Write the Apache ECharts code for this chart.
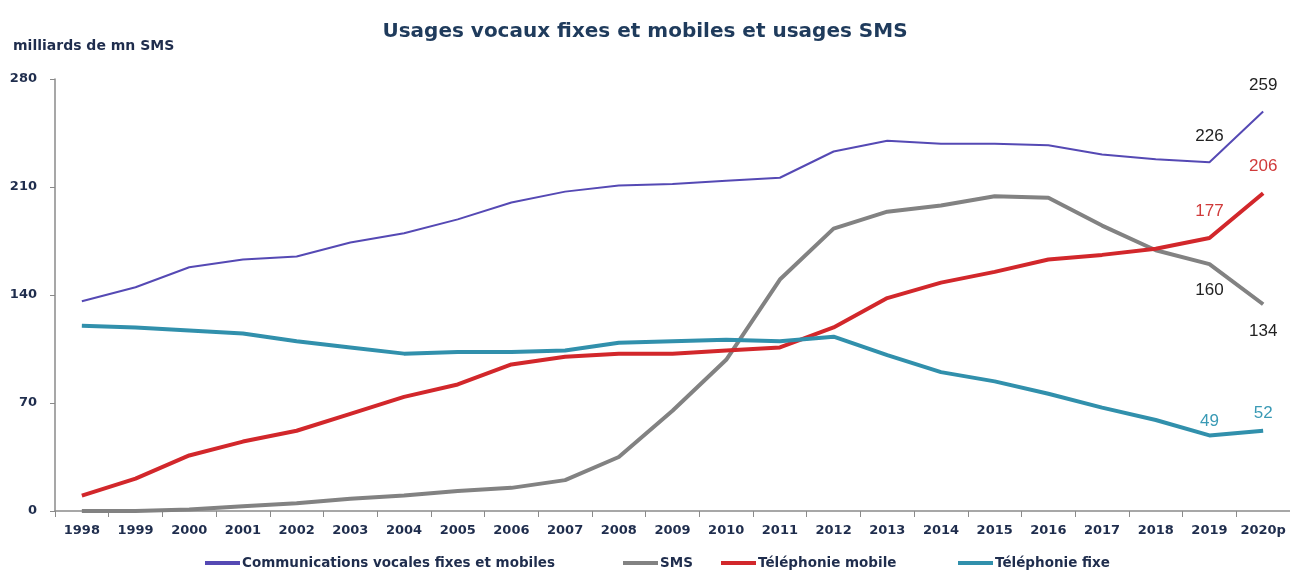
<!DOCTYPE html>
<html lang="fr">
<head>
  <meta charset="utf-8">
  <script src="https://cdn.jsdelivr.net/npm/echarts@6/dist/echarts.min.js"></script>
</head>
<body style="margin: 0; background: #fff">
  <div id="container" style="width: 1290px; height: 579px;"></div>
  <script>
    // années
    const years = ['1998', '1999', '2000', '2001', '2002', '2003', '2004', '2005', '2006', '2007', '2008',
      '2009', '2010', '2011', '2012', '2013', '2014', '2015', '2016', '2017', '2018', '2019', '2020p'];

    // milliards de minutes / SMS
    const vocales = [136, 145, 158, 163, 165, 174, 180, 189, 200, 207, 211, 212, 214, 216, 233, 240, 238, 238, 237, 231, 228, 226, 259];
    const sms = [0, 0, 1, 3, 5, 8, 10, 13, 15, 20, 35, 65, 98, 150, 183, 194, 198, 204, 203, 185, 169, 160, 134];
    const mobile = [10, 21, 36, 45, 52, 63, 74, 82, 95, 100, 102, 102, 104, 106, 119, 138, 148, 155, 163, 166, 170, 177, 206];
    const fixe = [120, 119, 117, 115, 110, 106, 102, 103, 103, 104, 109, 110, 111, 110, 113, 101, 90, 84, 76, 67, 59, 49, 52];

    const seriesNames = ['Communications vocales fixes et mobiles', 'SMS', 'Téléphonie mobile', 'Téléphonie fixe'];

    var dom = document.getElementById('container');
    var myChart = echarts.init(dom, null, { renderer: 'canvas' });

    const FONT = 'DejaVu Sans';
    const DARK = '#1f2d4d';

    // étiquettes sur les deux dernières années
    function withLabels(values, labels) {
      return values.map((v, i) => {
        if (!labels[i]) return v;
        return {
          value: v,
          label: Object.assign({ show: true, fontFamily: 'Liberation Sans', fontSize: 17 }, labels[i])
        };
      });
    }

    // une légende par entrée pour placer chacune comme sur l'original
    const legendLeft = [200, 618, 716, 953];
    const legends = seriesNames.map((name, i) => ({
      data: [name],
      left: legendLeft[i],
      bottom: 4,
      itemWidth: 35,
      itemHeight: 4,
      icon: 'rect',
      itemStyle: { opacity: 1 },
      textStyle: { fontFamily: FONT, fontWeight: 'bold', fontSize: 13.5, color: DARK, padding: [0, 0, 0, -3] }
    }));

    function lineSeries(name, data, color, width, z) {
      return {
        name: name,
        type: 'line',
        symbol: 'circle',
        symbolSize: 0,
        showSymbol: true,
        color: color,
        lineStyle: { width: width },
        label: { show: false },
        z: z,
        data: data
      };
    }

    var option = {
      animation: false,
      title: {
        text: 'Usages vocaux fixes et mobiles et usages SMS',
        left: 'center',
        top: 17,
        textStyle: { fontFamily: FONT, fontWeight: 'bold', fontSize: 20, color: '#1f3b5c' }
      },
      legend: legends,
      grid: { left: 55, right: 0, top: 79, bottom: 68 },
      xAxis: {
        type: 'category',
        data: years,
        boundaryGap: true,
        axisLine: { lineStyle: { color: '#8a8a8a', width: 1.5 } },
        axisTick: { show: true, length: 6, lineStyle: { color: '#8a8a8a' } },
        axisLabel: { fontFamily: FONT, fontWeight: 'bold', fontSize: 13, color: DARK, margin: 13, interval: 0 }
      },
      yAxis: {
        type: 'value',
        min: 0,
        max: 280,
        interval: 70,
        name: 'milliards de mn SMS',
        nameLocation: 'end',
        nameGap: 26,
        nameTextStyle: { fontFamily: FONT, fontWeight: 'bold', fontSize: 14, color: DARK, align: 'left', padding: [0, 0, 0, -42] },
        axisLine: { show: true, lineStyle: { color: '#8a8a8a', width: 1.5 } },
        axisTick: { show: true, length: 5, lineStyle: { color: '#8a8a8a' } },
        splitLine: { show: false },
        axisLabel: { fontFamily: FONT, fontWeight: 'bold', fontSize: 13, color: DARK, margin: 18 }
      },
      series: [
        lineSeries(seriesNames[0], withLabels(vocales, {
          21: { position: 'top', distance: 18, color: '#222' },
          22: { position: 'top', distance: 18, color: '#222' }
        }), '#5549b4', 2, 4),
        lineSeries(seriesNames[1], withLabels(sms, {
          21: { position: 'bottom', distance: 18, color: '#222' },
          22: { position: 'bottom', distance: 19, color: '#222' }
        }), '#828282', 4, 2),
        lineSeries(seriesNames[2], withLabels(mobile, {
          21: { position: 'top', distance: 18, color: '#d03a3a' },
          22: { position: 'top', distance: 18, color: '#d03a3a' }
        }), '#d2272b', 4, 3),
        lineSeries(seriesNames[3], withLabels(fixe, {
          21: { position: 'top', distance: 6, color: '#3a9ab5' },
          22: { position: 'top', distance: 9, color: '#3a9ab5' }
        }), '#3190ac', 4, 3)
      ]
    };

    myChart.setOption(option);
  </script>
</body>
</html>
